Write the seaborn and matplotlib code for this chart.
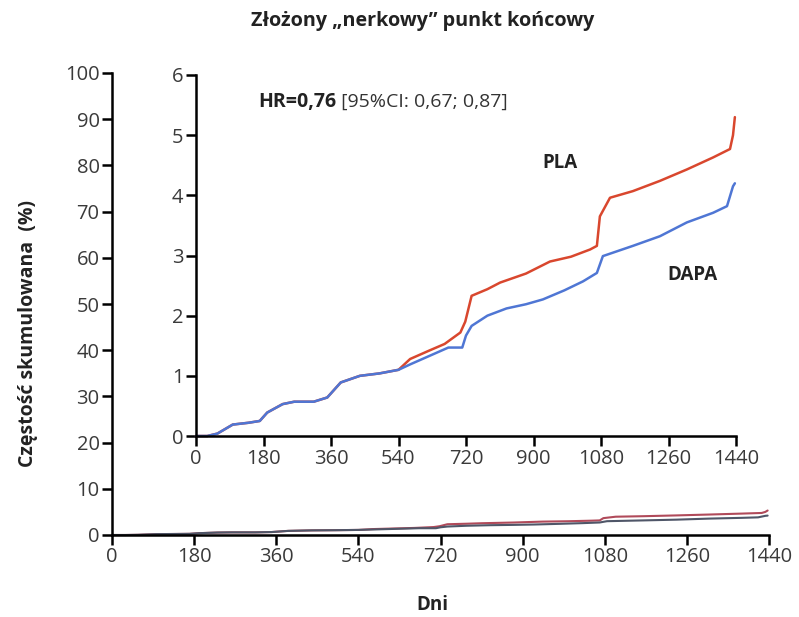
import numpy as np
import pandas as pd
import matplotlib
matplotlib.use("Agg")
import matplotlib.pyplot as plt
import seaborn as sns

# ---------------- data ----------------
days_common = [0, 30, 57, 98, 140, 170, 190, 231, 262, 314, 350, 386, 437, 489, 540]
vals_common = [0, 0, 0.04, 0.19, 0.22, 0.25, 0.39, 0.53, 0.57, 0.57, 0.64, 0.89, 1.0, 1.04, 1.1]

pla_days = [571, 622, 663, 705, 718, 735, 777, 811, 880, 944, 1000, 1051, 1069, 1077,
            1104, 1165, 1237, 1309, 1379, 1424, 1432, 1437]
pla_vals = [1.28, 1.42, 1.53, 1.72, 1.9, 2.33, 2.44, 2.55, 2.7, 2.9, 2.98, 3.1, 3.16, 3.65,
            3.96, 4.07, 4.24, 4.43, 4.63, 4.77, 5.0, 5.3]

dapa_days = [571, 622, 673, 710, 720, 735, 777, 828, 880, 925, 982, 1032, 1069, 1085,
             1165, 1237, 1309, 1379, 1416, 1432, 1437]
dapa_vals = [1.19, 1.33, 1.47, 1.47, 1.67, 1.83, 2.0, 2.12, 2.19, 2.27, 2.42, 2.57, 2.71, 2.99,
             3.16, 3.32, 3.55, 3.71, 3.82, 4.15, 4.2]

groups = ["PLA", "DAPA"]
x_ticks = [0, 180, 360, 540, 720, 900, 1080, 1260, 1440]
main_y_ticks = [0, 10, 20, 30, 40, 50, 60, 70, 80, 90, 100]
inset_y_ticks = [0, 1, 2, 3, 4, 5, 6]

title = "Złożony „nerkowy” punkt końcowy"
ylabel = "Częstość skumulowana  (%)"
xlabel = "Dni"
hr_bold = "HR=0,76"
hr_rest = " [95%CI: 0,67; 0,87]"

rows = []
for g, dd, vv in [("PLA", pla_days, pla_vals), ("DAPA", dapa_days, dapa_vals)]:
    for d, v in zip(days_common + dd, vals_common + vv):
        rows.append({"day": d, "val": v, "group": g})
df = pd.DataFrame(rows)

# ---------------- style ----------------
sns.set_theme(style="white")
plt.rcParams["font.family"] = ["Open Sans", "DejaVu Sans"]

fig = plt.figure(figsize=(7.99, 6.17), dpi=100)
W, H = 799, 617

def px_axes(x0, x1, y0, y1):
    return fig.add_axes([x0 / W, 1 - y1 / H, (x1 - x0) / W, (y1 - y0) / H])

tick_color = "#3a3a3a"
txt_color = "#222222"

# main axes
ax = px_axes(112, 769, 73, 535)
main_pal = {"PLA": "#b04a5a", "DAPA": "#4f5668"}
sns.lineplot(data=df, x="day", y="val", hue="group", hue_order=groups, palette=main_pal,
             estimator=None, sort=True, linewidth=1.5, legend=False, ax=ax)
for l in ax.lines:
    l.set_clip_on(False)
ax.set_xlim(0, 1440)
ax.set_ylim(0, 100)
ax.set_xticks(x_ticks)
ax.set_yticks(main_y_ticks)
ax.set_xlabel(xlabel, fontsize=13.5, fontweight="bold", color=txt_color)
ax.set_ylabel(ylabel, fontsize=14, fontweight="bold", color=txt_color)
ax.xaxis.set_label_coords(0.487, -0.130)
ax.yaxis.set_label_coords(-0.113, 0.437)
for s in ["top", "right"]:
    ax.spines[s].set_visible(False)
for s in ["left", "bottom"]:
    ax.spines[s].set_color("black")
    ax.spines[s].set_linewidth(1.8)
ax.tick_params(axis="both", direction="out", length=7, width=1.8, color="black",
               labelsize=14.5, labelcolor=tick_color, pad=2, left=True, bottom=True)
ax.patch.set_alpha(0)

# inset axes
ins = px_axes(196, 736, 75, 436)
ins_pal = {"PLA": "#d9472e", "DAPA": "#4f76d4"}
sns.lineplot(data=df, x="day", y="val", hue="group", hue_order=groups, palette=ins_pal,
             estimator=None, sort=True, linewidth=1.8, legend=False, ax=ins)
for l in ins.lines:
    l.set_clip_on(False)
ins.set_xlim(0, 1440)
ins.set_ylim(0, 6)
ins.set_xticks(x_ticks)
ins.set_yticks(inset_y_ticks)
ins.set_xlabel("")
ins.set_ylabel("")
for s in ["top", "right"]:
    ins.spines[s].set_visible(False)
for s in ["left", "bottom"]:
    ins.spines[s].set_color("black")
    ins.spines[s].set_linewidth(1.8)
ins.tick_params(axis="both", direction="out", length=7, width=1.8, color="black",
                labelsize=14.5, labelcolor=tick_color, pad=2, left=True, bottom=True)
ins.set_facecolor("white")

# annotations
t1 = ins.text(0.115, 0.925, hr_bold, transform=ins.transAxes, fontsize=14,
              fontweight="bold", color=txt_color, va="center", ha="left")
fig.canvas.draw()
bb = t1.get_window_extent(renderer=fig.canvas.get_renderer())
x_end = ins.transAxes.inverted().transform((bb.x1, bb.y0))[0]
ins.text(x_end, 0.925, hr_rest, transform=ins.transAxes, fontsize=14,
         color="#333333", va="center", ha="left")
ins.text(925, 4.53, "PLA", fontsize=13.5, fontweight="bold", color=txt_color,
         ha="left", va="center")
ins.text(1323, 2.67, "DAPA", fontsize=13.5, fontweight="bold", color=txt_color,
         ha="center", va="center")

fig.text(423 / W, 1 - 21 / H, title, fontsize=14.2, fontweight="bold", color=txt_color,
         ha="center", va="center")

fig.savefig("out.png", dpi=100)
